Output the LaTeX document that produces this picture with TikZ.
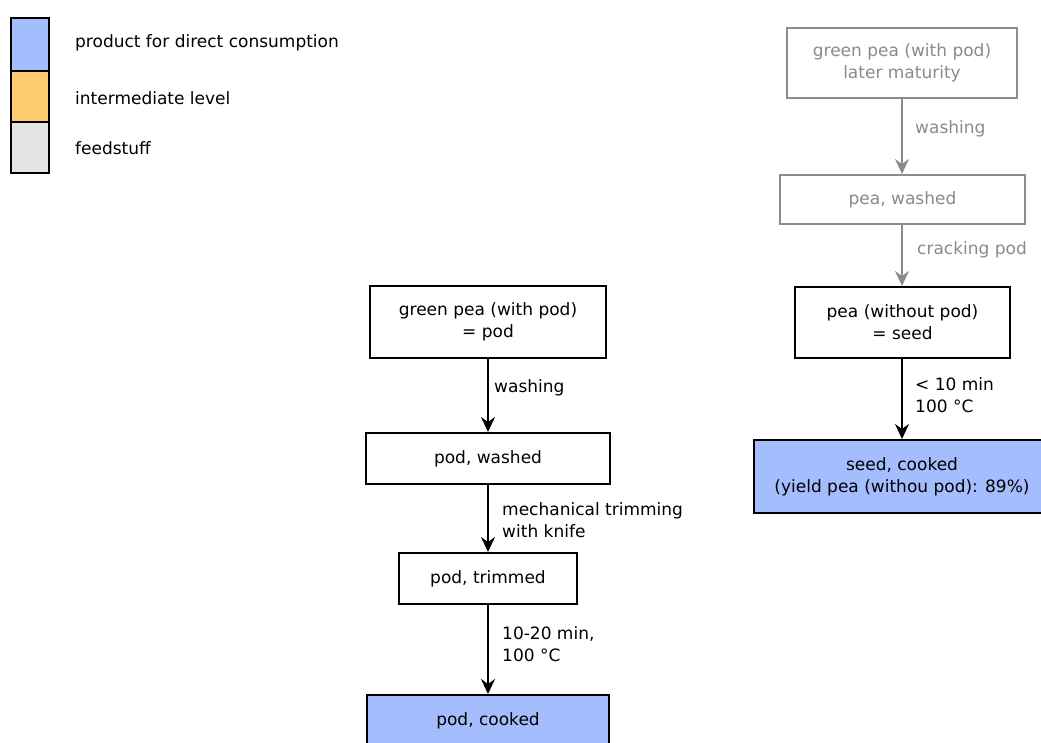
\documentclass[tikz,border=0pt]{standalone}
\usepackage{fontspec}
\setmainfont{DejaVu Sans}
\usetikzlibrary{arrows.meta}
\definecolor{consume}{HTML}{A3BDFD}
\definecolor{interm}{HTML}{FCCB6E}
\definecolor{feed}{HTML}{E4E4E4}
\definecolor{dimline}{HTML}{8C8C8C}
\definecolor{dimtext}{HTML}{8A8A8A}
\tikzset{
  txt/.style={font=\fontsize{17}{22}\selectfont, inner sep=0pt},
  box/.style={txt, draw=black, line width=2pt, align=center, fill=white},
  dimbox/.style={box, draw=dimline, text=dimtext},
  lbl/.style={txt, anchor=west, align=left},
  dimlbl/.style={lbl, text=dimtext},
  arr/.style={line width=2pt, -{Stealth[length=15pt,width=14pt,inset=5pt]}},
  dimarr/.style={arr, draw=dimline, color=dimline},
  swatch/.style={draw=black, line width=2.2pt, minimum width=38pt, inner sep=0pt}
}
\newcommand{\boxat}[6]{% name, style, left, top, right, bottom
  \node[#2, minimum width={#5-#3}, minimum height={#6-#4}] (#1) at ({(#3+#5)/2},{-(#4+#6)/2})}
\begin{document}
\begin{tikzpicture}[x=1pt,y=1pt]
\useasboundingbox (0,0) rectangle (1041,-743);

% legend
\node[swatch, fill=consume, minimum height=53pt] (lgA) at (30,-44.5) {};
\node[swatch, fill=interm, minimum height=51pt] (lgB) at (30,-96.5) {};
\node[swatch, fill=feed, minimum height=51pt] (lgC) at (30,-147.5) {};
\node[lbl] (lgAt) at (75,-43) {product for direct consumption};
\node[lbl] (lgBt) at (75,-98) {intermediate level};
\node[lbl] (lgCt) at (75,-148) {feedstuff};

% pod route
\boxat{p1}{box}{370}{286}{606}{358} {green pea (with pod)\\= pod};
\boxat{p2}{box}{366}{433}{610}{484} {pod, washed};
\boxat{p3}{box}{399}{553}{577}{604} {pod, trimmed};
\boxat{p4}{box, fill=consume}{367}{695}{609}{748} {};
\node[txt] (p4t) at (488,-721) {pod, cooked};

\draw[arr] (p1.south) -- (p2.north);
\draw[arr] (p2.south) -- (p3.north);
\draw[arr] (p3.south) -- (p4.north);
\node[lbl] (l1) at (494,-388) {washing};
\node[lbl] (l2) at (502,-520) {mechanical trimming\\with knife};
\node[lbl] (l3) at (502,-644) {10-20 min,\\100 °C};

% seed route
\boxat{s1}{dimbox}{787}{28}{1017}{98} {green pea (with pod)\\later maturity};
\boxat{s2}{dimbox}{780}{175}{1025}{224} {pea, washed};
\boxat{s3}{box}{795}{287}{1010}{358} {pea (without pod)\\= seed};
\boxat{s4}{box, fill=consume}{754}{440}{1050}{513} {};
\node[txt, align=center] (s4t) at (902,-477) {seed, cooked\\(yield pea (withou pod): 89\%)};

\draw[dimarr] (s1.south) -- (s2.north -| s1.south);
\draw[dimarr] (s2.south -| s1.south) -- (s3.north -| s1.south);
\draw[arr] (s3.south -| s1.south) -- (s4.north -| s1.south);
\node[dimlbl] (m1) at (915,-129) {washing};
\node[dimlbl] (m2) at (917,-250) {cracking pod};
\node[lbl] (m3) at (915,-395) {< 10 min\\100 °C};
\end{tikzpicture}
\end{document}
